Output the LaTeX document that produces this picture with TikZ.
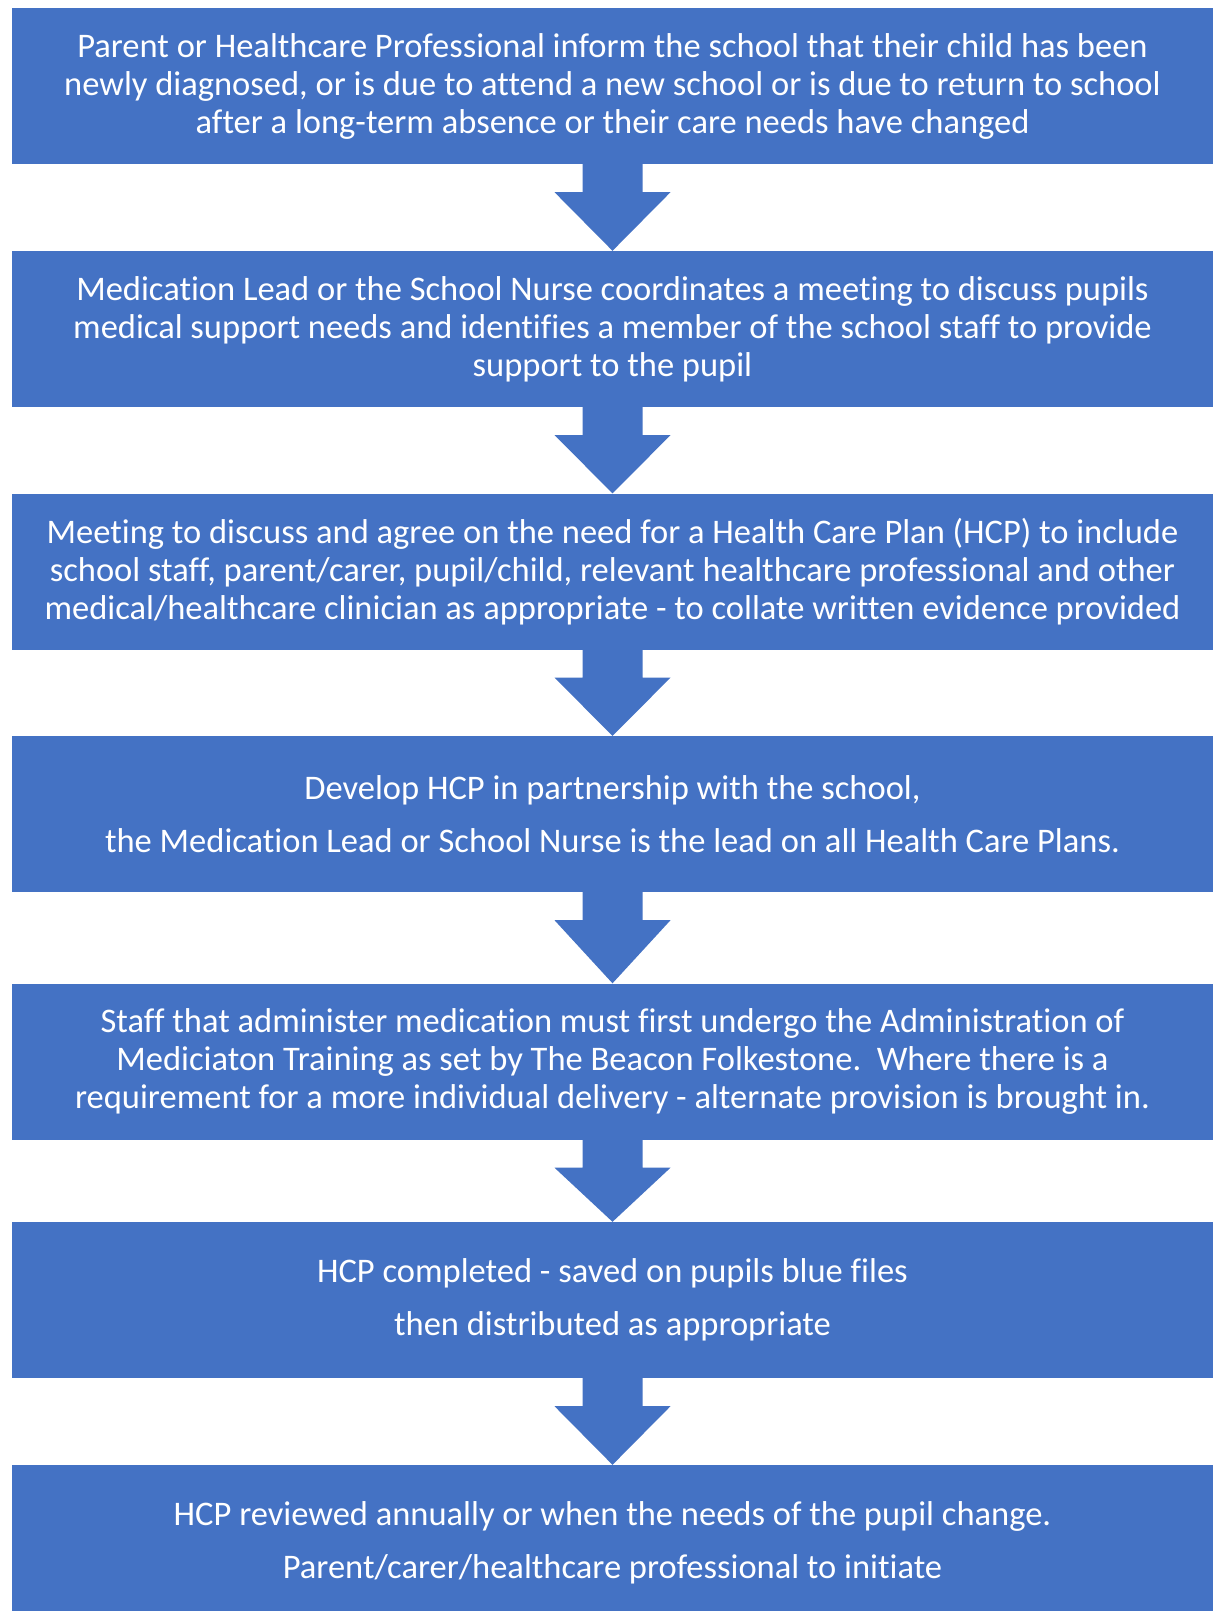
\documentclass[tikz,border=0pt]{standalone}
\usepackage{fontspec}
\setmainfont{Carlito}[RawFeature={-liga;-calt;-clig;-dlig;-rlig}]
\usetikzlibrary{calc}
\definecolor{officeblue}{HTML}{4472C4}
\tikzset{
  box/.style={fill=officeblue, text=white, align=center, inner sep=0pt,
    minimum width=1201pt, minimum height=156pt,
    font=\fontsize{34.5}{38}\selectfont},
  widebox/.style={box, font=\fontsize{34.5}{53.4}\selectfont},
  blockarrow/.style={fill=officeblue}
}
\newcommand{\flowarrow}[2]{%
  \fill[blockarrow] ($(#1.south)+(-30,0)$) -- ($(#1.south)+(-30,28)$) -- ($(#1.south)+(-58,28)$)
    -- (#2.north) -- ($(#1.south)+(58,28)$) -- ($(#1.south)+(30,28)$) -- ($(#1.south)+(30,0)$) -- cycle;}
\begin{document}
\begin{tikzpicture}[x=1pt,y=-1pt]
\useasboundingbox[fill=white] (0,0) rectangle (1213,1611);
\node[box] (b1) at (612.5,86) {Parent or Healthcare Professional inform the school that their child has been\\newly diagnosed, or is due to attend a new school or is due to return to school\\after a long-term absence or their care needs have changed};
\node[box] (b2) at (612.5,329) {Medication Lead or the School Nurse coordinates a meeting to discuss pupils\\medical support needs and identifies a member of the school staff to provide\\support to the pupil};
\node[box] (b3) at (612.5,571.5) {Meeting to discuss and agree on the need for a Health Care Plan (HCP) to include\\school staff, parent/carer, pupil/child, relevant healthcare professional and other\\medical/healthcare clinician as appropriate - to collate written evidence provided};
\node[widebox] (b4) at (612.5,814) {Develop HCP in partnership with the school,\\the Medication Lead or School Nurse is the lead on all Health Care Plans.};
\node[box] (b5) at (612.5,1061.5) {Staff that administer medication must first undergo the Administration of\\Mediciaton Training as set by The Beacon Folkestone.\ \ Where there is a\\requirement for a more individual delivery - alternate provision is brought in.};
\node[widebox] (b6) at (612.5,1300) {HCP completed - saved on pupils blue files\\then distributed as appropriate};
\node[widebox] (b7) at (612.5,1543) {HCP reviewed annually or when the needs of the pupil change.\\Parent/carer/healthcare professional to initiate};
\flowarrow{b1}{b2}
\flowarrow{b2}{b3}
\flowarrow{b3}{b4}
\flowarrow{b4}{b5}
\flowarrow{b5}{b6}
\flowarrow{b6}{b7}
\end{tikzpicture}
\end{document}
